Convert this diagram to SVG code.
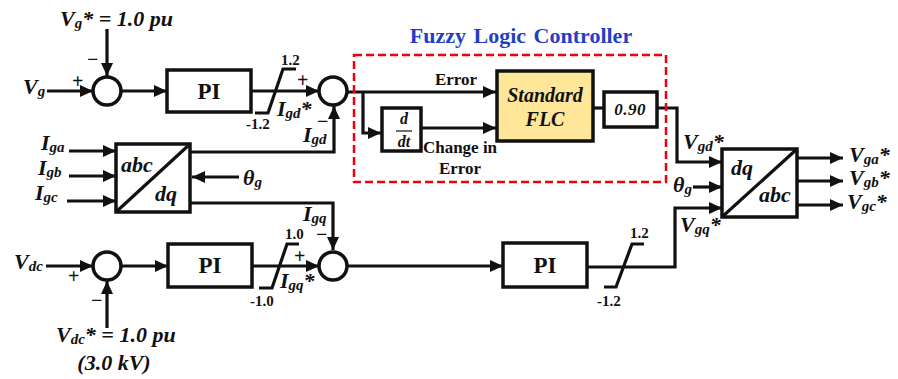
<svg xmlns="http://www.w3.org/2000/svg" width="898" height="379" viewBox="0 0 898 379">
<style>
text{font-family:"Liberation Serif","Times New Roman",serif;font-weight:bold;fill:#111}
.i{font-style:italic;font-size:22px}
.s{font-style:italic;font-size:15px}
.n{font-size:15px}
.e{font-size:17px}
.o{font-size:20px}
.p{font-size:23px}
.f{font-style:italic;font-size:20px}
.b{fill:#fff;stroke:#111;stroke-width:3.5}
.l{fill:none;stroke:#111;stroke-width:3.2}
</style>
<defs><marker id="a" markerUnits="userSpaceOnUse" markerWidth="14" markerHeight="14" refX="13" refY="7" orient="auto"><path d="M0 1L13 7L0 13Z" fill="#111"/></marker></defs>
<g id="connectors" class="l">
<path d="M107 29V76" marker-end="url(#a)"/>
<path d="M47 91H93" marker-end="url(#a)"/>
<path d="M121 91H167" marker-end="url(#a)"/>
<path d="M251 91H319" marker-end="url(#a)"/>
<path d="M255 113H268L283 69H296"/>
<path d="M190 152H334V106" marker-end="url(#a)"/>
<path d="M69 151H116" marker-end="url(#a)"/>
<path d="M69 176H116" marker-end="url(#a)"/>
<path d="M67 201H116" marker-end="url(#a)"/>
<path d="M239 177H192" marker-end="url(#a)"/>
<path d="M190 203H333V250" marker-end="url(#a)"/>
<path d="M347 92H496" marker-end="url(#a)"/>
<path d="M363 92V133H381" marker-end="url(#a)"/>
<path d="M421 128H496" marker-end="url(#a)"/>
<path d="M593 108H604"/>
<path d="M657 108H677V162H722" marker-end="url(#a)"/>
<path d="M693 187H722" marker-end="url(#a)"/>
<path d="M587 267H675V208H722" marker-end="url(#a)"/>
<path d="M797 158H843" marker-end="url(#a)"/>
<path d="M797 181H843" marker-end="url(#a)"/>
<path d="M797 205H843" marker-end="url(#a)"/>
<path d="M46 266H93" marker-end="url(#a)"/>
<path d="M107 328V281" marker-end="url(#a)"/>
<path d="M121 266H168" marker-end="url(#a)"/>
<path d="M252 266H319" marker-end="url(#a)"/>
<path d="M259 288H272L287 244H299"/>
<path d="M347 266H503" marker-end="url(#a)"/>
<path d="M604 287H616L632 244H644"/>
</g>
<g id="sum1"><circle class="b" cx="107" cy="91" r="14"/></g>
<g id="sum2"><circle class="b" cx="333" cy="91" r="14"/></g>
<g id="sum3"><circle class="b" cx="107" cy="266" r="14"/></g>
<g id="sum4"><circle class="b" cx="333" cy="266" r="14"/></g>
<g id="pi1"><rect class="b" x="167" y="70" width="84" height="42"/><text class="p" x="209" y="99" text-anchor="middle">PI</text></g>
<g id="pi2"><rect class="b" x="168" y="244" width="84" height="43"/><text class="p" x="210" y="273" text-anchor="middle">PI</text></g>
<g id="pi3"><rect class="b" x="503" y="243" width="84" height="44"/><text class="p" x="545" y="273" text-anchor="middle">PI</text></g>
<g id="abc-dq"><rect class="b" x="116" y="144" width="74" height="68"/><path class="l" d="M116 212L190 144"/><text class="i" x="121" y="172">abc</text><text class="i" x="155" y="201">dq</text></g>
<g id="dq-abc"><rect class="b" x="722" y="149" width="75" height="68"/><path class="l" d="M722 217L797 149"/><text class="i" x="731" y="175">dq</text><text class="i" x="759" y="202">abc</text></g>
<g id="flc-box"><rect x="354" y="55" width="312" height="127" fill="none" stroke="#f0000f" stroke-width="2.5" stroke-dasharray="8 4"/></g>
<g id="flc"><rect x="497" y="71" width="96" height="70" fill="#ffe699" stroke="#111" stroke-width="3.5"/><text class="f" x="545" y="102" text-anchor="middle">Standard</text><text class="f" x="545" y="126" text-anchor="middle">FLC</text></g>
<g id="gain"><rect class="b" x="604" y="92" width="53" height="35"/><text class="s" x="630" y="115" text-anchor="middle" style="font-size:17px;letter-spacing:.5px">0.90</text></g>
<g id="ddt"><rect class="b" x="382" y="108" width="39" height="43"/><path d="M396 131H412" stroke="#111" stroke-width="1.2"/><text class="s" x="404" y="124" text-anchor="middle" style="font-size:16px">d</text><text class="s" x="404" y="147" text-anchor="middle" style="font-size:16px">dt</text></g>
<g id="labels">
<text x="521" y="43" text-anchor="middle" style="fill:#1f3fc8;font-size:22px;word-spacing:2px">Fuzzy Logic Controller</text>
<text class="e" x="456" y="85" text-anchor="middle">Error</text>
<text class="e" x="460" y="153" text-anchor="middle">Change in</text>
<text class="e" x="460" y="174" text-anchor="middle">Error</text>
<text class="i" x="60" y="26">V<tspan class="s" dy="2">g</tspan><tspan dy="-2">* = 1.0 pu</tspan></text>
<text class="i" x="23" y="94">V<tspan class="s" dy="2">g</tspan></text>
<text class="o" x="72" y="88">+</text>
<text class="o" x="87" y="66">−</text>
<text class="o" x="297" y="87">+</text>
<text class="o" x="317" y="128">−</text>
<text class="n" x="281" y="65">1.2</text>
<text class="n" x="246" y="129">-1.2</text>
<text class="i" x="277" y="116">I<tspan class="s" dy="2">gd</tspan><tspan dy="-2">*</tspan></text>
<text class="i" x="303" y="142">I<tspan class="s" dy="2">gd</tspan></text>
<text class="i" x="41" y="150">I<tspan class="s" dy="2">ga</tspan></text>
<text class="i" x="38" y="175">I<tspan class="s" dy="2">gb</tspan></text>
<text class="i" x="35" y="200">I<tspan class="s" dy="2">gc</tspan></text>
<text class="i" x="243" y="185">θ<tspan class="s" dy="2">g</tspan></text>
<text class="i" x="303" y="221">I<tspan class="s" dy="2">gq</tspan></text>
<text class="o" x="316" y="241">−</text>
<text class="n" x="285" y="239">1.0</text>
<text class="n" x="250" y="306">-1.0</text>
<text class="o" x="294" y="263">+</text>
<text class="i" x="280" y="288">I<tspan class="s" dy="2">gq</tspan><tspan dy="-2">*</tspan></text>
<text class="i" x="14" y="269">V<tspan class="s" dy="2">dc</tspan></text>
<text class="o" x="68" y="283">+</text>
<text class="o" x="91" y="307">−</text>
<text class="i" x="56" y="342">V<tspan class="s" dy="2">dc</tspan><tspan dy="-2">* = 1.0 pu</tspan></text>
<text class="i" x="114" y="370" text-anchor="middle">(3.0 kV)</text>
<text class="n" x="630" y="238">1.2</text>
<text class="n" x="597" y="306">-1.2</text>
<text class="i" x="683" y="149">V<tspan class="s" dy="2">gd</tspan><tspan dy="-2">*</tspan></text>
<text class="i" x="673" y="192">θ<tspan class="s" dy="2">g</tspan></text>
<text class="i" x="680" y="232">V<tspan class="s" dy="2">gq</tspan><tspan dy="-2">*</tspan></text>
<text class="i" x="849" y="162">V<tspan class="s" dy="2">ga</tspan><tspan dy="-2">*</tspan></text>
<text class="i" x="849" y="185">V<tspan class="s" dy="2">gb</tspan><tspan dy="-2">*</tspan></text>
<text class="i" x="847" y="209">V<tspan class="s" dy="2">gc</tspan><tspan dy="-2">*</tspan></text>
</g>
</svg>
